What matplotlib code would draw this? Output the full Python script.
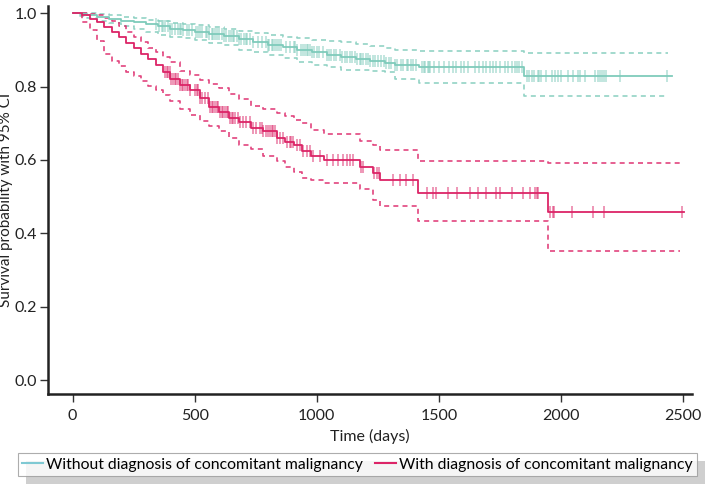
import matplotlib
matplotlib.use("Agg")
import matplotlib.pyplot as plt
from matplotlib.patches import Rectangle
import numpy as np

plt.rcParams['font.family'] = ['Lato', 'DejaVu Sans']

# --- without diagnosis of concomitant malignancy (teal) ---
t_wo = [0, 30, 60, 100, 150, 200, 250, 300, 350, 400, 450, 500, 560, 620, 680,
        740, 800, 860, 920, 980, 1040, 1100, 1160, 1220, 1280, 1320, 1420, 1850]
s_wo = [1.0, 0.997, 0.994, 0.99, 0.985, 0.98, 0.975, 0.97, 0.964, 0.958, 0.954,
        0.950, 0.944, 0.937, 0.930, 0.922, 0.914, 0.907, 0.900, 0.893, 0.887,
        0.881, 0.876, 0.870, 0.865, 0.860, 0.853, 0.829]
up_wo = [1.0, 1.0, 1.0, 0.998, 0.994, 0.99, 0.986, 0.982, 0.978, 0.974, 0.971,
         0.968, 0.963, 0.957, 0.951, 0.946, 0.941, 0.936, 0.932, 0.928, 0.925,
         0.921, 0.915, 0.910, 0.906, 0.900, 0.896, 0.891]
lo_wo = [1.0, 0.992, 0.986, 0.98, 0.972, 0.964, 0.957, 0.949, 0.941, 0.936,
         0.932, 0.928, 0.920, 0.912, 0.900, 0.893, 0.885, 0.877, 0.868, 0.860,
         0.852, 0.846, 0.844, 0.842, 0.841, 0.820, 0.810, 0.775]
end_wo = 2455
ci_end_wo = 2438
cens_wo = [340, 352, 365, 372, 380, 392, 400, 405, 418, 430, 440, 445, 452, 470,
           478, 490, 505, 512, 520, 530, 545, 552, 560, 570, 575, 585, 590, 600,
           612, 620, 628, 640, 650, 655, 662, 672, 680, 690, 700, 708, 715, 725,
           740, 760, 775, 790, 800, 805, 815, 822, 830, 838, 845, 852, 875, 890,
           905, 912, 920, 935, 942, 950, 958, 965, 972, 980, 990, 1000, 1010,
           1025, 1040, 1052, 1060, 1070, 1080, 1095, 1105, 1115, 1125, 1135,
           1145, 1155, 1165, 1175, 1180, 1190, 1200, 1210, 1220, 1230, 1240,
           1250, 1262, 1275, 1285, 1295, 1305, 1320, 1330, 1345, 1355, 1368,
           1375, 1385, 1395, 1405, 1430, 1440, 1445, 1455, 1460, 1465, 1480,
           1500, 1520, 1540, 1560, 1570, 1590, 1605, 1620, 1650, 1665, 1680,
           1695, 1710, 1722, 1735, 1750, 1770, 1785, 1800, 1810, 1820, 1830,
           1840, 1860, 1870, 1880, 1890, 1905, 1912, 1920, 1940, 1965, 1975,
           1990, 2000, 2030, 2050, 2070, 2080, 2100, 2140, 2150, 2160, 2170,
           2178, 2185, 2240, 2435]

# --- with diagnosis of concomitant malignancy (magenta) ---
t_w = [0, 40, 70, 100, 130, 160, 190, 220, 250, 280, 310, 340, 370, 400, 440,
       480, 520, 560, 600, 640, 680, 730, 780, 835, 870, 905, 940, 975, 1030,
       1175, 1230, 1260, 1415, 1948]
s_w = [1.0, 0.994, 0.985, 0.975, 0.962, 0.950, 0.936, 0.920, 0.906, 0.890,
       0.875, 0.858, 0.840, 0.822, 0.803, 0.790, 0.770, 0.745, 0.730, 0.715,
       0.703, 0.688, 0.680, 0.660, 0.650, 0.640, 0.625, 0.610, 0.600, 0.582,
       0.564, 0.546, 0.510, 0.458]
up_w = [1.0, 1.0, 0.998, 0.994, 0.988, 0.980, 0.966, 0.948, 0.935, 0.921, 0.906,
        0.893, 0.880, 0.866, 0.842, 0.832, 0.818, 0.806, 0.796, 0.780, 0.765,
        0.746, 0.740, 0.728, 0.720, 0.710, 0.700, 0.682, 0.670, 0.652, 0.641,
        0.628, 0.596, 0.593]
lo_w = [1.0, 0.975, 0.955, 0.925, 0.890, 0.870, 0.855, 0.841, 0.828, 0.815,
        0.802, 0.790, 0.778, 0.762, 0.740, 0.722, 0.705, 0.692, 0.679, 0.660,
        0.642, 0.630, 0.612, 0.596, 0.580, 0.567, 0.550, 0.545, 0.536, 0.520,
        0.491, 0.475, 0.435, 0.352]
end_w = 2505
ci_end_w = 2487
cens_w = [378, 385, 392, 398, 404, 411, 418, 425, 432, 440, 446, 453, 460, 467,
          474, 480, 500, 508, 514, 521, 528, 542, 555, 562, 569, 576, 583, 590,
          596, 603, 610, 617, 624, 631, 637, 644, 651, 658, 665, 678, 685, 699,
          712, 726, 740, 753, 767, 774, 780, 794, 801, 808, 815, 821, 828, 835,
          849, 862, 876, 890, 896, 903, 917, 931, 944, 958, 972, 985, 1013, 1040,
          1067, 1087, 1107, 1122, 1136, 1149, 1180, 1190, 1235, 1245, 1255,
          1312, 1341, 1367, 1394, 1450, 1475, 1490, 1538, 1573, 1627, 1661,
          1695, 1736, 1750, 1798, 1845, 1873, 1893, 1900, 1907, 1957, 1966,
          1972, 2046, 2132, 2176, 2495]

teal = '#7fcbbb'
magenta = '#dc2467'

fig = plt.figure(figsize=(7.09, 4.86), dpi=100)
ax = fig.add_axes([0.0677, 0.189, 0.908, 0.799])


def km(ax, t, s, up, lo, end, ci_end, cens, color):
    tt = np.array(t + [end])
    ax.step(tt, s + [s[-1]], where='post', color=color, lw=1.3, zorder=3)
    tc = np.array(t + [ci_end])
    ax.step(tc, up + [up[-1]], where='post', color=color, lw=1.2,
            ls=(0, (3, 2.5)), alpha=0.85, zorder=2)
    ax.step(tc, lo + [lo[-1]], where='post', color=color, lw=1.2,
            ls=(0, (3, 2.5)), alpha=0.85, zorder=2)
    idx = np.searchsorted(np.array(t), np.array(cens), side='right') - 1
    ax.plot(cens, np.array(s)[idx], ls='none', marker='|', ms=9, mew=1.1,
            color=color, alpha=0.6, zorder=4)


km(ax, t_wo, s_wo, up_wo, lo_wo, end_wo, ci_end_wo, cens_wo, teal)
km(ax, t_w, s_w, up_w, lo_w, end_w, ci_end_w, cens_w, magenta)

ax.set_xlim(-101, 2536)
ax.set_ylim(-0.038, 1.02)
ax.set_xticks([0, 500, 1000, 1500, 2000, 2500])
ax.set_yticks([0.0, 0.2, 0.4, 0.6, 0.8, 1.0])
ax.set_yticklabels(['0.0', '0.2', '0.4', '0.6', '0.8', '1.0'])
for side in ['top', 'right']:
    ax.spines[side].set_visible(False)
for side in ['left', 'bottom']:
    ax.spines[side].set_linewidth(1.8)
    ax.spines[side].set_color('#222222')
ax.tick_params(length=6, width=1, color='#333333', labelsize=11.5,
               labelcolor='#222222')
ax.tick_params(axis='x', pad=5)
ax.tick_params(axis='y', pad=2)
ax.set_xlabel('Time (days)', fontsize=11.5, color='#222222', labelpad=4)
ax.set_ylabel('Survival probability with 95% CI', fontsize=11,
              color='#222222')
ax.yaxis.set_label_coords(-0.054, 0.5)

h1, = ax.plot([], [], color='#7fc9d3', lw=1.5)
h2, = ax.plot([], [], color=magenta, lw=1.5)
leg = fig.legend([h1, h2], ['Without diagnosis of concomitant malignancy',
                            'With diagnosis of concomitant malignancy'],
                 loc='lower center', bbox_to_anchor=(0.504, 0.02), ncol=2,
                 fontsize=11.3, frameon=True, fancybox=False,
                 edgecolor='#999999', handlelength=1.3, handletextpad=0.2,
                 columnspacing=0.8, borderpad=0.3, borderaxespad=0)
leg.get_frame().set_linewidth(0.8)

fig.canvas.draw()
bb = leg.get_window_extent().transformed(fig.transFigure.inverted())
shadow = Rectangle((bb.x0 + 8 / 709, bb.y0 - 8 / 486), bb.width, bb.height,
                   transform=fig.transFigure, facecolor='#cfcfcf',
                   edgecolor='none', zorder=0)
fig.patches.append(shadow)
leg.set_zorder(5)

fig.savefig('out.png', dpi=100)
